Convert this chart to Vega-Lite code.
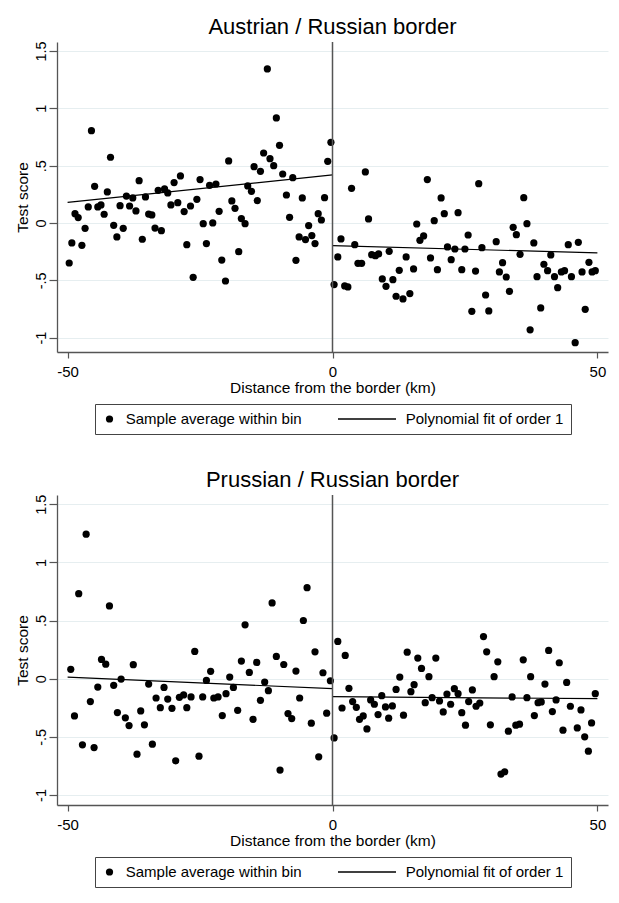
{
  "$schema": "https://vega.github.io/schema/vega-lite/v6.json",
  "background": "white",
  "padding": {"left": 14, "top": 15, "right": 5, "bottom": 5},
  "spacing": 34,
  "config": {
    "font": "Liberation Sans",
    "view": {"stroke": null},
    "title": {"fontSize": 22, "fontWeight": "normal", "color": "black", "anchor": "middle", "offset": 2},
    "axis": {
      "domainColor": "#555555", "domainWidth": 1.3, "tickColor": "#555555", "tickWidth": 1.2,
      "labelColor": "black", "titleColor": "black", "labelFont": "Liberation Sans", "titleFont": "Liberation Sans",
      "titleFontWeight": "normal", "labelFlush": false, "labelOverlap": false
    },
    "legend": {"labelFont": "Liberation Sans", "layout": {"bottom": {"anchor": "middle"}}}
  },
  "resolve": {
    "scale": {"x": "independent", "y": "independent", "shape": "independent", "size": "independent"},
    "legend": {"shape": "independent", "size": "independent"}
  },
  "datasets": {
    "austria_pts": [
      {"d":-49.7,"score":-0.349},{"d":-49.2,"score":-0.174},{"d":-48.6,"score":0.081},{"d":-48.0,"score":0.047},
      {"d":-47.3,"score":-0.195},{"d":-46.7,"score":-0.047},{"d":-46.1,"score":0.140},{"d":-45.5,"score":0.805},
      {"d":-44.9,"score":0.320},{"d":-44.3,"score":0.140},{"d":-43.7,"score":0.157},{"d":-43.1,"score":0.076},
      {"d":-42.5,"score":0.271},{"d":-41.9,"score":0.573},{"d":-41.3,"score":-0.020},{"d":-40.7,"score":-0.122},
      {"d":-40.1,"score":0.151},{"d":-39.5,"score":-0.047},{"d":-38.9,"score":0.235},{"d":-38.3,"score":0.148},
      {"d":-37.7,"score":0.218},{"d":-37.1,"score":0.105},{"d":-36.5,"score":0.369},{"d":-35.9,"score":-0.142},
      {"d":-35.3,"score":0.227},{"d":-34.7,"score":0.078},{"d":-34.1,"score":0.070},{"d":-33.5,"score":-0.044},
      {"d":-32.9,"score":0.285},{"d":-32.3,"score":-0.067},{"d":-31.7,"score":0.297},{"d":-31.1,"score":0.262},
      {"d":-30.5,"score":0.157},{"d":-29.9,"score":0.352},{"d":-29.2,"score":0.177},{"d":-28.7,"score":0.410},
      {"d":-28.0,"score":0.099},{"d":-27.5,"score":-0.189},{"d":-26.8,"score":0.148},{"d":-26.3,"score":-0.474},
      {"d":-25.6,"score":0.206},{"d":-25.0,"score":0.378},{"d":-24.4,"score":-0.006},{"d":-23.8,"score":-0.180},
      {"d":-23.2,"score":0.328},{"d":-22.6,"score":0.000},{"d":-22.0,"score":0.340},{"d":-21.4,"score":0.102},
      {"d":-20.9,"score":-0.323},{"d":-20.2,"score":-0.506},{"d":-19.6,"score":0.541},{"d":-19.0,"score":0.192},
      {"d":-18.4,"score":0.128},{"d":-17.7,"score":-0.250},{"d":-17.2,"score":0.038},{"d":-16.5,"score":-0.006},
      {"d":-16.0,"score":0.323},{"d":-15.3,"score":0.276},{"d":-14.8,"score":0.491},{"d":-14.2,"score":0.195},
      {"d":-13.6,"score":0.450},{"d":-13.0,"score":0.610},{"d":-12.3,"score":1.343},{"d":-11.8,"score":0.561},
      {"d":-11.1,"score":0.500},{"d":-10.6,"score":0.916},{"d":-10.0,"score":0.677},{"d":-9.4,"score":0.427},
      {"d":-8.7,"score":0.244},{"d":-8.1,"score":0.049},{"d":-7.5,"score":0.395},{"d":-6.9,"score":-0.326},
      {"d":-6.3,"score":-0.122},{"d":-5.7,"score":0.218},{"d":-5.1,"score":-0.145},{"d":-4.5,"score":-0.023},
      {"d":-3.9,"score":-0.110},{"d":-3.3,"score":-0.180},{"d":-2.7,"score":0.081},{"d":-2.1,"score":0.026},
      {"d":-1.5,"score":0.221},{"d":-0.9,"score":0.538},{"d":-0.3,"score":0.703},
      {"d":0.3,"score":-0.537},{"d":1.0,"score":-0.296},{"d":1.6,"score":-0.139},{"d":2.3,"score":-0.549},
      {"d":2.9,"score":-0.558},{"d":3.6,"score":0.302},{"d":4.2,"score":-0.189},{"d":4.8,"score":-0.352},
      {"d":5.5,"score":-0.352},{"d":6.2,"score":0.445},{"d":6.8,"score":0.035},{"d":7.4,"score":-0.276},
      {"d":8.1,"score":-0.285},{"d":8.7,"score":-0.270},{"d":9.4,"score":-0.488},{"d":10.1,"score":-0.552},
      {"d":10.7,"score":-0.247},{"d":11.4,"score":-0.494},{"d":12.0,"score":-0.639},{"d":12.6,"score":-0.413},
      {"d":13.3,"score":-0.662},{"d":13.9,"score":-0.296},{"d":14.6,"score":-0.616},{"d":15.3,"score":-0.401},
      {"d":15.9,"score":-0.009},{"d":16.5,"score":-0.151},{"d":17.2,"score":-0.113},{"d":17.9,"score":0.378},
      {"d":18.5,"score":-0.305},{"d":19.2,"score":0.020},{"d":19.8,"score":-0.407},{"d":20.5,"score":0.218},
      {"d":21.1,"score":0.081},{"d":21.7,"score":-0.209},{"d":22.4,"score":-0.320},{"d":23.1,"score":-0.227},
      {"d":23.7,"score":0.090},{"d":24.4,"score":-0.407},{"d":25.0,"score":-0.227},{"d":25.6,"score":-0.105},
      {"d":26.3,"score":-0.770},{"d":27.0,"score":-0.419},{"d":27.6,"score":0.343},{"d":28.2,"score":-0.215},
      {"d":28.9,"score":-0.628},{"d":29.5,"score":-0.767},{"d":30.9,"score":-0.163},{"d":31.5,"score":-0.427},
      {"d":32.1,"score":-0.346},{"d":32.8,"score":-0.471},{"d":33.4,"score":-0.596},{"d":34.1,"score":-0.038},
      {"d":34.7,"score":-0.102},{"d":35.4,"score":-0.273},{"d":36.1,"score":0.221},{"d":36.7,"score":-0.006},
      {"d":37.3,"score":-0.932},{"d":38.0,"score":-0.174},{"d":38.6,"score":-0.468},{"d":39.3,"score":-0.741},
      {"d":39.9,"score":-0.360},{"d":40.6,"score":-0.416},{"d":41.2,"score":-0.279},{"d":41.9,"score":-0.468},
      {"d":42.5,"score":-0.564},{"d":43.2,"score":-0.427},{"d":43.8,"score":-0.416},{"d":44.5,"score":-0.189},
      {"d":45.1,"score":-0.468},{"d":45.8,"score":-1.044},{"d":46.4,"score":-0.169},{"d":47.1,"score":-0.427},
      {"d":47.7,"score":-0.753},{"d":48.4,"score":-0.343},{"d":49.0,"score":-0.427},{"d":49.6,"score":-0.416}
    ],
    "austria_fit": [
      {"d":-50,"score":0.180,"seg":"left"},{"d":0,"score":0.419,"seg":"left"},
      {"d":0,"score":-0.197,"seg":"right"},{"d":50,"score":-0.261,"seg":"right"}
    ],
    "prussia_pts": [
      {"d":-49.4,"score":0.080},{"d":-48.7,"score":-0.320},{"d":-47.9,"score":0.731},{"d":-47.2,"score":-0.569},
      {"d":-46.5,"score":1.242},{"d":-45.7,"score":-0.197},{"d":-45.0,"score":-0.592},{"d":-44.3,"score":-0.072},
      {"d":-43.6,"score":0.165},{"d":-42.8,"score":0.125},{"d":-42.1,"score":0.625},{"d":-41.3,"score":-0.057},
      {"d":-40.6,"score":-0.291},{"d":-39.9,"score":-0.003},{"d":-39.1,"score":-0.337},{"d":-38.4,"score":-0.403},
      {"d":-37.6,"score":0.120},{"d":-36.9,"score":-0.649},{"d":-36.2,"score":-0.277},{"d":-35.5,"score":-0.397},
      {"d":-34.7,"score":-0.046},{"d":-34.0,"score":-0.563},{"d":-33.3,"score":-0.166},{"d":-32.5,"score":-0.249},
      {"d":-31.8,"score":-0.075},{"d":-31.1,"score":-0.175},{"d":-30.3,"score":-0.255},{"d":-29.6,"score":-0.706},
      {"d":-28.9,"score":-0.160},{"d":-28.1,"score":-0.140},{"d":-27.5,"score":-0.249},{"d":-26.7,"score":-0.157},
      {"d":-26.0,"score":0.234},{"d":-25.2,"score":-0.666},{"d":-24.5,"score":-0.157},{"d":-23.8,"score":-0.015},
      {"d":-23.0,"score":0.063},{"d":-22.4,"score":-0.166},{"d":-21.6,"score":-0.157},{"d":-20.8,"score":-0.317},
      {"d":-20.1,"score":-0.129},{"d":-19.4,"score":0.014},{"d":-18.7,"score":-0.075},{"d":-17.9,"score":-0.272},
      {"d":-17.2,"score":0.151},{"d":-16.5,"score":0.463},{"d":-15.7,"score":0.054},{"d":-15.0,"score":-0.349},
      {"d":-14.3,"score":0.140},{"d":-13.6,"score":-0.186},{"d":-12.8,"score":-0.029},{"d":-12.1,"score":-0.103},
      {"d":-11.4,"score":0.651},{"d":-10.6,"score":0.191},{"d":-9.9,"score":-0.786},{"d":-9.2,"score":0.122},
      {"d":-8.4,"score":-0.300},{"d":-7.7,"score":-0.343},{"d":-6.9,"score":0.065},{"d":-6.2,"score":-0.166},
      {"d":-5.5,"score":0.500},{"d":-4.8,"score":0.782},{"d":-4.0,"score":-0.383},{"d":-3.3,"score":0.231},
      {"d":-2.6,"score":-0.672},{"d":-1.8,"score":0.051},{"d":-1.1,"score":-0.297},{"d":-0.4,"score":-0.018},
      {"d":0.3,"score":-0.509},{"d":1.0,"score":0.320},{"d":1.8,"score":-0.252},{"d":2.4,"score":0.200},
      {"d":3.1,"score":-0.083},{"d":3.8,"score":-0.197},{"d":4.5,"score":-0.246},{"d":5.1,"score":-0.349},
      {"d":5.8,"score":-0.320},{"d":6.5,"score":-0.432},{"d":7.2,"score":-0.183},{"d":7.9,"score":-0.220},
      {"d":8.6,"score":-0.309},{"d":9.3,"score":-0.146},{"d":10.0,"score":-0.243},{"d":10.6,"score":-0.340},
      {"d":11.3,"score":-0.234},{"d":12.0,"score":-0.092},{"d":12.7,"score":0.014},{"d":13.4,"score":-0.314},
      {"d":14.1,"score":0.228},{"d":14.8,"score":-0.112},{"d":15.4,"score":-0.052},{"d":16.1,"score":0.177},
      {"d":16.8,"score":0.088},{"d":17.5,"score":-0.206},{"d":18.2,"score":0.017},{"d":18.8,"score":-0.163},
      {"d":19.5,"score":0.177},{"d":20.2,"score":-0.192},{"d":20.9,"score":-0.286},{"d":21.6,"score":-0.132},
      {"d":22.3,"score":-0.220},{"d":23.0,"score":-0.086},{"d":23.7,"score":-0.129},{"d":24.4,"score":-0.292},
      {"d":25.1,"score":-0.400},{"d":25.7,"score":-0.197},{"d":26.4,"score":-0.097},{"d":27.1,"score":-0.237},
      {"d":27.8,"score":-0.209},{"d":28.5,"score":0.362},{"d":29.1,"score":0.231},{"d":29.8,"score":-0.397},
      {"d":30.5,"score":0.017},{"d":31.2,"score":0.145},{"d":31.8,"score":-0.820},{"d":32.5,"score":-0.800},
      {"d":33.2,"score":-0.451},{"d":33.9,"score":-0.157},{"d":34.6,"score":-0.400},{"d":35.3,"score":-0.391},
      {"d":36.0,"score":0.162},{"d":36.7,"score":-0.163},{"d":37.4,"score":0.017},{"d":38.1,"score":-0.317},
      {"d":38.8,"score":-0.206},{"d":39.4,"score":-0.200},{"d":40.1,"score":-0.046},{"d":40.8,"score":0.243},
      {"d":41.5,"score":-0.283},{"d":42.2,"score":-0.183},{"d":42.8,"score":0.137},{"d":43.5,"score":-0.443},
      {"d":44.2,"score":-0.032},{"d":44.9,"score":-0.237},{"d":46.2,"score":-0.423},{"d":46.9,"score":-0.269},
      {"d":47.6,"score":-0.500},{"d":48.3,"score":-0.623},{"d":48.9,"score":-0.380},{"d":49.6,"score":-0.129}
    ],
    "prussia_fit": [
      {"d":-50,"score":0.014,"seg":"left"},{"d":0,"score":-0.086,"seg":"left"},
      {"d":0,"score":-0.155,"seg":"right"},{"d":50,"score":-0.172,"seg":"right"}
    ]
  },
  "vconcat": [
    {
      "title": {"text": "Austrian / Russian border"},
      "width": 551,
      "height": 310,
      "layer": [
        {
          "data": {"name": "austria_pts"},
          "mark": {"type": "point", "filled": true, "color": "black", "opacity": 1},
          "encoding": {
            "x": {"field": "d", "type": "quantitative",
              "scale": {"domain": [-52, 52], "nice": false, "zero": false},
              "axis": {"title": "Distance from the border (km)", "values": [-50, 0, 50], "labelExpr": "toString(datum.value)",
                "grid": false, "tickSize": 6, "labelFontSize": 15, "labelPadding": 6.5, "titleFontSize": 15.5, "titlePadding": 1}},
            "y": {"field": "score", "type": "quantitative",
              "scale": {"domain": [-1.125, 1.578], "nice": false, "zero": false},
              "axis": {"title": "Test score", "values": [-1, -0.5, 0, 0.5, 1, 1.5],
                "labelExpr": "datum.value == 0.5 ? '.5' : datum.value == -0.5 ? '-.5' : toString(datum.value)",
                "labelAngle": -90, "grid": true, "gridColor": "#e6eef0", "gridWidth": 1, "tickSize": 8,
                "labelFontSize": 14.5, "labelPadding": 1, "titleFontSize": 15.5, "titlePadding": 3}},
            "shape": {"datum": "Sample average within bin", "type": "nominal",
              "scale": {"domain": ["Sample average within bin", "Polynomial fit of order 1"], "range": ["circle", "M-1,-0.022H1V0.022H-1Z"]},
              "legend": {"title": null, "orient": "bottom", "direction": "horizontal", "strokeColor": "#444444", "fillColor": "white",
                "padding": 7, "offset": 8, "labelFontSize": 15, "labelColor": "black", "labelOffset": 8.7, "symbolOffset": 0,
                "columnPadding": 35, "labelLimit": 400, "clipHeight": 16,
                "encode": {"symbols": {"fill": {"value": "black"}, "opacity": {"value": 1}}}}},
            "size": {"datum": "Sample average within bin", "type": "nominal",
              "scale": {"type": "point", "domain": ["Sample average within bin", "Polynomial fit of order 1"], "range": [52, 3364]},
              "legend": {"title": null, "orient": "bottom", "direction": "horizontal", "strokeColor": "#444444", "fillColor": "white",
                "padding": 7, "offset": 8, "labelFontSize": 15, "labelColor": "black", "labelOffset": 8.7, "symbolOffset": 0,
                "columnPadding": 35, "labelLimit": 400, "clipHeight": 16,
                "encode": {"symbols": {"fill": {"value": "black"}, "opacity": {"value": 1}}}}}
          }
        },
        {
          "data": {"name": "austria_fit"},
          "mark": {"type": "line", "color": "black", "strokeWidth": 1.2},
          "encoding": {
            "x": {"field": "d", "type": "quantitative"},
            "y": {"field": "score", "type": "quantitative"},
            "detail": {"field": "seg"}
          }
        },
        {
          "data": {"values": [{"border": 0}]},
          "mark": {"type": "rule", "color": "#555555", "strokeWidth": 1.5},
          "encoding": {"x": {"field": "border", "type": "quantitative"}}
        }
      ]
    },
    {
      "title": {"text": "Prussian / Russian border"},
      "width": 551,
      "height": 310,
      "layer": [
        {
          "data": {"name": "prussia_pts"},
          "mark": {"type": "point", "filled": true, "color": "black", "opacity": 1},
          "encoding": {
            "x": {"field": "d", "type": "quantitative",
              "scale": {"domain": [-52, 52], "nice": false, "zero": false},
              "axis": {"title": "Distance from the border (km)", "values": [-50, 0, 50], "labelExpr": "toString(datum.value)",
                "grid": false, "tickSize": 6, "labelFontSize": 15, "labelPadding": 6.5, "titleFontSize": 15.5, "titlePadding": 1}},
            "y": {"field": "score", "type": "quantitative",
              "scale": {"domain": [-1.086, 1.579], "nice": false, "zero": false},
              "axis": {"title": "Test score", "values": [-1, -0.5, 0, 0.5, 1, 1.5],
                "labelExpr": "datum.value == 0.5 ? '.5' : datum.value == -0.5 ? '-.5' : toString(datum.value)",
                "labelAngle": -90, "grid": true, "gridColor": "#e6eef0", "gridWidth": 1, "tickSize": 8,
                "labelFontSize": 14.5, "labelPadding": 1, "titleFontSize": 15.5, "titlePadding": 3}},
            "shape": {"datum": "Sample average within bin", "type": "nominal",
              "scale": {"domain": ["Sample average within bin", "Polynomial fit of order 1"], "range": ["circle", "M-1,-0.022H1V0.022H-1Z"]},
              "legend": {"title": null, "orient": "bottom", "direction": "horizontal", "strokeColor": "#444444", "fillColor": "white",
                "padding": 7, "offset": 8, "labelFontSize": 15, "labelColor": "black", "labelOffset": 8.7, "symbolOffset": 0,
                "columnPadding": 35, "labelLimit": 400, "clipHeight": 16,
                "encode": {"symbols": {"fill": {"value": "black"}, "opacity": {"value": 1}}}}},
            "size": {"datum": "Sample average within bin", "type": "nominal",
              "scale": {"type": "point", "domain": ["Sample average within bin", "Polynomial fit of order 1"], "range": [52, 3364]},
              "legend": {"title": null, "orient": "bottom", "direction": "horizontal", "strokeColor": "#444444", "fillColor": "white",
                "padding": 7, "offset": 8, "labelFontSize": 15, "labelColor": "black", "labelOffset": 8.7, "symbolOffset": 0,
                "columnPadding": 35, "labelLimit": 400, "clipHeight": 16,
                "encode": {"symbols": {"fill": {"value": "black"}, "opacity": {"value": 1}}}}}
          }
        },
        {
          "data": {"name": "prussia_fit"},
          "mark": {"type": "line", "color": "black", "strokeWidth": 1.2},
          "encoding": {
            "x": {"field": "d", "type": "quantitative"},
            "y": {"field": "score", "type": "quantitative"},
            "detail": {"field": "seg"}
          }
        },
        {
          "data": {"values": [{"border": 0}]},
          "mark": {"type": "rule", "color": "#555555", "strokeWidth": 1.5},
          "encoding": {"x": {"field": "border", "type": "quantitative"}}
        }
      ]
    }
  ]
}
